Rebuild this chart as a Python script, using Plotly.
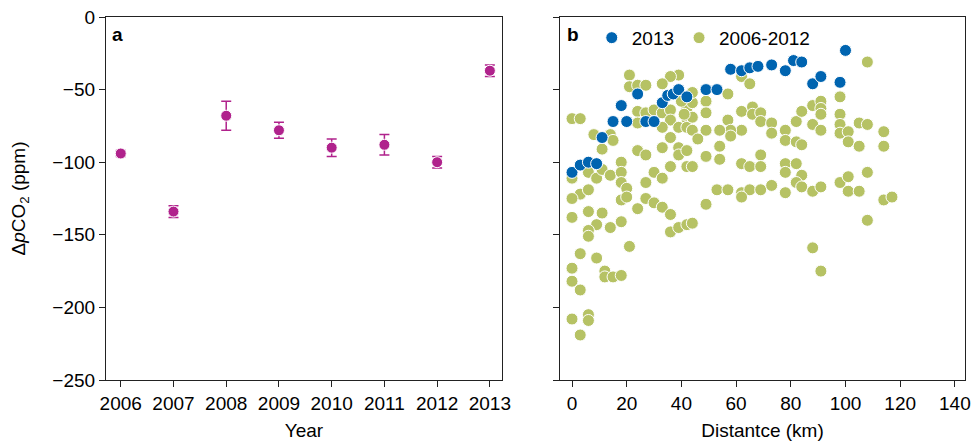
import plotly.graph_objects as go

# Panel a: annual mean ΔpCO2
years = [2006, 2007, 2008, 2009, 2010, 2011, 2012, 2013]
dpco2_mean = [-94, -134, -68, -78, -90, -88, -100, -37]
dpco2_err = [2, 4, 10, 5.5, 6, 7, 4, 4]

# Panel b: 2013
x2013 = [0, 3, 6, 9, 11, 15, 18, 20, 24, 27, 30, 33, 35, 37, 39, 42, 49, 53,
         58, 62, 65, 68, 73, 78, 81, 84, 88, 91, 98, 100]
y2013 = [-107, -102, -100, -101, -83, -72, -61, -72, -53, -72, -72, -59, -54, -53, -50, -55, -50, -50,
         -36, -37, -35, -34, -33, -37, -30, -31, -46, -41, -45, -23]

# Panel b: 2006-2012
x_old = [21, 39, 36, 21, 24, 27, 33, 0, 3, 24, 27, 30, 33, 36, 42, 42, 24, 36, 39, 42, 33,
         8, 14, 11, 15, 24, 27, 33, 36, 39, 39, 42, 0, 6, 9, 11, 14, 18, 18, 18, 20, 27, 30, 33,
         36, 42, 3, 6, 0,
         6, 11, 0, 9, 6, 6, 14, 18, 18, 20, 24, 27, 30, 33, 36, 36, 39, 42, 21, 3, 9, 0, 0, 3,
         12, 12, 15, 18, 0, 6, 6, 3,
         62, 65, 57, 49, 44, 49, 44, 57, 62, 66, 66, 69, 69, 62, 58, 54, 49, 44, 58, 54, 49, 54,
         44, 69, 62, 65, 69, 73, 73, 78, 78, 82, 84, 82, 84, 88, 88, 91, 91, 91, 78, 82, 78, 84,
         53, 57, 62, 65, 69, 73, 78, 82, 84, 88, 91, 62,
         108, 98, 98, 91, 98, 98, 101, 101, 105, 108, 105, 114, 114, 98, 101, 101, 105, 108, 114, 117,
         49, 44, 108, 88, 91, 40, 44, 41, 46]
y_old = [-40, -40, -41, -48, -47, -47, -46, -70, -70, -65, -66, -64, -66, -64, -63, -70, -73, -71, -76, -76, -76,
         -81, -81, -91, -85, -92, -95, -90, -83, -90, -95, -92, -111, -107, -111, -105, -109, -100, -107, -114, -118, -114, -107, -111,
         -103, -103, -122, -119, -125,
         -134, -135, -138, -143, -147, -151, -145, -141, -126, -124, -132, -125, -128, -131, -136, -148, -145, -143, -158, -163, -166, -173, -182, -188,
         -175, -179, -179, -178, -208, -205, -209, -219,
         -41, -46, -53, -58, -59, -66, -69, -71, -65, -62, -67, -66, -72, -78, -78, -78, -78, -78, -82, -89, -96, -98,
         -103, -95, -101, -103, -103, -73, -80, -78, -85, -86, -88, -72, -65, -74, -61, -58, -63, -78, -101, -101, -107, -109,
         -119, -119, -121, -119, -119, -116, -121, -114, -117, -120, -117, -124,
         -31, -55, -67, -67, -74, -80, -79, -86, -73, -74, -89, -79, -89, -114, -110, -120, -120, -107, -126, -124,
         -129, -142, -140, -159, -175, -58, -52, -67, -84]

year_ticks = years
dist_ticks = [0, 20, 40, 60, 80, 100, 120, 140]
y_ticks = [0, -50, -100, -150, -200, -250]
y_ticktext = ["0", "\u221250", "\u2212100", "\u2212150", "\u2212200", "\u2212250"]

MAGENTA = "#b0228c"
BLUE = "#0064b0"
GREEN = "#b6c264"
FONT = "Liberation Sans, Arial, sans-serif"
FS = 19

fig = go.Figure()

fig.add_trace(go.Scatter(
    x=years, y=dpco2_mean, mode="markers",
    error_y=dict(type="data", array=dpco2_err, color=MAGENTA, thickness=1.5, width=5),
    marker=dict(color=MAGENTA, size=11, line=dict(color="white", width=1)),
    showlegend=False, xaxis="x", yaxis="y"))

fig.add_trace(go.Scatter(
    x=x_old, y=y_old, mode="markers", name="2006-2012",
    marker=dict(color=GREEN, size=12, line=dict(color="white", width=1)),
    xaxis="x2", yaxis="y2", legendrank=2))

fig.add_trace(go.Scatter(
    x=x2013, y=y2013, mode="markers", name="2013",
    marker=dict(color=BLUE, size=12, line=dict(color="white", width=1)),
    xaxis="x2", yaxis="y2", legendrank=1))

axis_common = dict(showline=True, linecolor="#222", linewidth=1.2, mirror=True,
                   ticks="outside", ticklen=6, tickcolor="#222", showgrid=False,
                   zeroline=False, ticklabeloverflow="allow", automargin=False,
                   tickfont=dict(size=FS, color="black", family=FONT))

# The page body has an 8px default margin, so the figure is sized to fit
fig.update_layout(
    width=971, height=437,
    margin=dict(l=98, r=14, t=9, b=65, autoexpand=False),
    paper_bgcolor="white", plot_bgcolor="white",
    font=dict(family=FONT, color="black", size=FS),
    xaxis=dict(domain=[0, 0.461], range=[2005.72, 2013.23], tickvals=year_ticks,
               title=dict(text="Year", font=dict(size=FS), standoff=10), **axis_common),
    yaxis=dict(range=[-250, 0], tickvals=y_ticks, ticktext=y_ticktext,
               title=dict(text="\u0394<i>p</i>CO<sub>2</sub> (ppm)", font=dict(size=FS), standoff=24),
               **axis_common),
    xaxis2=dict(domain=[0.5285, 1], range=[-4.4, 143.7], tickvals=dist_ticks, anchor="y2",
                title=dict(text="Distantce (km)", font=dict(size=FS), standoff=10), **axis_common),
    yaxis2=dict(range=[-250, 0], tickvals=y_ticks, showticklabels=False, anchor="x2",
                **axis_common),
    legend=dict(orientation="h", x=0.5655, xanchor="left", y=0.995, yanchor="top",
                font=dict(size=FS), bgcolor="rgba(0,0,0,0)", itemwidth=30,
                tracegroupgap=0, traceorder="normal"),
    annotations=[
        dict(text="<b>a</b>", x=0.01, y=0.953, xref="x domain", yref="y domain",
             xanchor="left", yanchor="middle", showarrow=False, font=dict(size=FS)),
        dict(text="<b>b</b>", x=0.012, y=0.953, xref="x2 domain", yref="y2 domain",
             xanchor="left", yanchor="middle", showarrow=False, font=dict(size=FS)),
    ],
)

fig.write_html("out.html")
